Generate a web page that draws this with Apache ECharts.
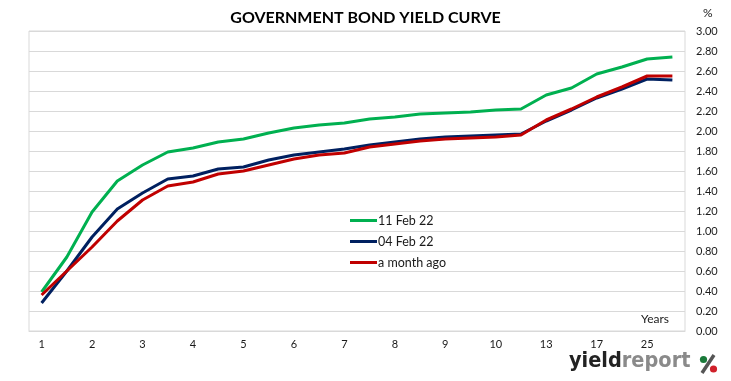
<!DOCTYPE html>
<html><head><meta charset="utf-8">
<script src="https://cdn.jsdelivr.net/npm/echarts@6/dist/echarts.min.js"></script>
<style>html,body{margin:0;padding:0;background:#fff}#c{width:731px;height:381px}</style>
</head><body><div id="c"></div>
<script>
var categories = ['1','1.5','2','2.5','3','3.5','4','4.5','5','5.5','6','6.5','7','7.5','8','8.5','9','9.5','10','12','13','15','17','20','25','30'];
var feb11 = [0.39,0.74,1.19,1.50,1.66,1.79,1.83,1.89,1.92,1.98,2.03,2.06,2.08,2.12,2.14,2.17,2.18,2.19,2.21,2.22,2.36,2.43,2.57,2.64,2.72,2.74];
var feb04 = [0.28,0.60,0.94,1.22,1.38,1.52,1.55,1.62,1.64,1.71,1.76,1.79,1.82,1.86,1.89,1.92,1.94,1.95,1.96,1.97,2.10,2.21,2.33,2.42,2.52,2.51];
var monthAgo = [0.36,0.60,0.84,1.10,1.31,1.45,1.49,1.57,1.60,1.66,1.72,1.76,1.78,1.84,1.87,1.90,1.92,1.93,1.94,1.96,2.11,2.22,2.34,2.44,2.55,2.55];
var seriesNames = ['11 Feb 22','04 Feb 22','a month ago'];

var F = 'Lato, "Open Sans", sans-serif';
var LF = '"DejaVu Sans Condensed", "DejaVu Sans", sans-serif';
var chart = echarts.init(document.getElementById('c'), null, {renderer:'canvas'});
function mk(name, data, color){
  return {name:name, type:'line', data:data, symbol:'none', smooth:false,
    lineStyle:{color:color, width:3}, itemStyle:{color:color}};
}
chart.setOption({
  animation:false,
  backgroundColor:'#fff',
  title:{text:'GOVERNMENT BOND YIELD CURVE', left:'center', top:5,
    textStyle:{fontFamily:F, fontWeight:'bold', fontSize:16, color:'#000'}},
  grid:{left:29, right:46, top:31, bottom:50, show:true, borderColor:'#d9d9d9', borderWidth:1, backgroundColor:'transparent'},
  legend:{orient:'vertical', left:345, top:209, padding:[5,5,5,5], itemWidth:27, itemHeight:3, itemGap:8,
    icon:'rect', textStyle:{fontFamily:F, fontSize:12.5, color:'#1a1a1a', padding:[0,0,0,-4]},
    data:seriesNames},
  xAxis:{type:'category', data:categories, boundaryGap:true,
    axisLine:{show:true, lineStyle:{color:'#d9d9d9'}}, axisTick:{show:false},
    axisLabel:{interval:1, fontFamily:F, fontSize:11, color:'#1a1a1a', margin:8},
    splitLine:{show:false}},
  yAxis:{type:'value', position:'right', min:0, max:3, interval:0.2,
    axisLine:{show:false}, axisTick:{show:false},
    axisLabel:{fontFamily:F, fontSize:11, color:'#1a1a1a', margin:11,
      formatter:function(v){return v.toFixed(2);}},
    splitLine:{lineStyle:{color:'#d9d9d9', width:1}}},
  graphic:[
    {type:'text', left:703, top:7, style:{text:'%', fontFamily:F, fontSize:12, fill:'#1a1a1a'}},
    {type:'text', left:641, top:313, style:{text:'Years', fontFamily:F, fontSize:12, fill:'#1a1a1a'}},
    {type:'text', left:569, top:350, style:{
      text:'{a|yield}{b|report}',
      rich:{
        a:{fontFamily:LF, fontWeight:'bold', fontSize:21.5, fill:'#222'},
        b:{fontFamily:LF, fontWeight:'bold', fontSize:21.5, fill:'#8a8a8a'}
      }}},
    {type:'line', shape:{x1:714, y1:355, x2:702, y2:373}, style:{stroke:'#555', lineWidth:3.5}},
    {type:'circle', shape:{cx:703.5, cy:359.5, r:3.6}, style:{fill:'#1a7a3a'}},
    {type:'circle', shape:{cx:713.5, cy:369, r:3.6}, style:{fill:'#d0202a'}}
  ],
  series:[mk(seriesNames[0], feb11, '#00B050'), mk(seriesNames[1], feb04, '#002060'), mk(seriesNames[2], monthAgo, '#C00000')]
});
</script></body></html>
